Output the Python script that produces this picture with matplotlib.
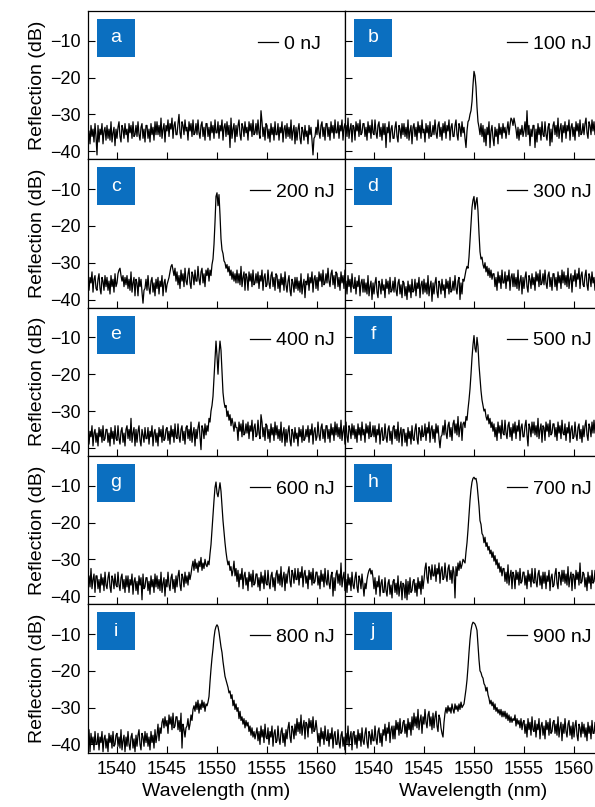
import numpy as np
import matplotlib
matplotlib.use("Agg")
import matplotlib.pyplot as plt
from matplotlib.patches import Rectangle

plt.rcParams['font.family'] = ['Liberation Sans', 'DejaVu Sans']

# wavelength sampling: 0.1 nm from 1537.0 to 1562.9 nm (one row of values per nm)
wl = np.round(1537.0 + 0.1 * np.arange(260), 1)

panel_letters = ['a', 'b', 'c', 'd', 'e', 'f', 'g', 'h', 'i', 'j']
energies = ['0 nJ', '100 nJ', '200 nJ', '300 nJ', '400 nJ',
            '500 nJ', '600 nJ', '700 nJ', '800 nJ', '900 nJ']

refl_a = [
    -33.5, -37, -34.5, -38, -33, -36, -34, -37.5, -32.5, -36,
    -41, -33, -37.5, -34, -35.5, -32.5, -38, -34.5, -33.5, -37,
    -33, -36.5, -34, -37, -32, -37.5, -35, -33.5, -38.5, -34,
    -36.5, -33.5, -32, -36, -37.5, -33, -34, -36.5, -32.5, -35.5,
    -34, -37.5, -32.5, -35, -33, -36.5, -32, -36, -35.5, -33,
    -36, -32, -35.5, -37, -33.5, -32.5, -36.5, -34, -37.5, -33,
    -33, -36.5, -34, -37.5, -32.5, -35.5, -33.5, -37, -32, -35.5,
    -32, -35.5, -33, -36, -31, -36.5, -34, -32.5, -37.5, -33,
    -34.5, -31.5, -36, -32.5, -34, -31, -36.5, -33, -32, -35.5,
    -35.5, -32.5, -30, -35, -36.5, -32, -33, -35.5, -31.5, -34.5,
    -33.5, -37, -32, -34.5, -32.5, -36, -31.5, -35.5, -35, -32.5,
    -35.5, -31.5, -35, -36.5, -33, -32, -36, -33.5, -37, -32.5,
    -32.5, -36, -33.5, -37, -32, -35, -33, -36.5, -31.5, -35,
    -35, -32, -36.5, -33, -34.5, -31.5, -37, -33.5, -32.5, -36,
    -32, -35.5, -33, -39, -31, -36.5, -34, -32.5, -37.5, -33,
    -36, -33, -31.5, -35.5, -37, -32.5, -33.5, -36, -32, -35,
    -33.5, -37, -32, -34.5, -32.5, -36, -31.5, -35.5, -35, -32.5,
    -35.5, -31.5, -35, -36.5, -29, -32, -36, -33.5, -37, -32.5,
    -33, -36.5, -34, -37.5, -32.5, -35.5, -33.5, -37, -32, -35.5,
    -35.5, -32.5, -37, -33.5, -35, -32, -37.5, -34, -33, -36.5,
    -32.5, -36, -33.5, -36.5, -31.5, -37, -34.5, -33, -38, -33.5,
    -37, -34, -32.5, -36.5, -38, -33.5, -34.5, -37, -33, -36,
    -34.5, -38, -33, -35.5, -33.5, -37, -41, -36.5, -36, -33.5,
    -35.5, -31.5, -35, -36.5, -33, -32, -36, -33.5, -37, -32.5,
    -32.5, -36, -33.5, -37, -32, -35, -33, -36.5, -31.5, -35,
    -35, -32, -36.5, -33, -34.5, -31.5, -37, -33.5, -32.5, -36,
]
refl_b = [
    -32, -35.5, -33, -36, -31, -36.5, -34, -32.5, -37.5, -33,
    -33.5, -37, -32, -34.5, -32.5, -36, -31.5, -35.5, -35, -32.5,
    -32.5, -36, -33.5, -37, -32, -35, -33, -36.5, -31.5, -35,
    -35.5, -31.5, -35, -36.5, -33, -32, -36, -33.5, -37, -32.5,
    -35.5, -32.5, -39, -33.5, -35, -32, -37.5, -34, -33, -36.5,
    -36.5, -33.5, -32, -36, -37.5, -33, -34, -36.5, -32.5, -35.5,
    -32.5, -36, -33.5, -36.5, -31.5, -37, -34.5, -33, -38, -33.5,
    -32.5, -36, -33.5, -37, -32, -35, -33, -36.5, -31.5, -35,
    -34, -37.5, -32.5, -35, -33, -36.5, -32, -36, -35.5, -33,
    -35.5, -31.5, -35, -36.5, -33, -32, -36, -33.5, -37, -32.5,
    -35, -32, -36.5, -33, -34.5, -31.5, -37, -33.5, -32.5, -36,
    -36, -33, -31.5, -35.5, -37, -32.5, -33.5, -36, -32, -35,
    -33.5, -36.5, -39, -34.5, -32, -31.5, -30, -29, -26.5, -22,
    -18.3, -19.5, -22.5, -28, -32, -33.5, -35.5, -32.5, -36, -33,
    -37.5, -34, -38.5, -33.5, -35.5, -32, -39, -34.5, -33, -36.5,
    -38.5, -33.5, -36, -34, -38, -32.5, -35.5, -33.5, -36.5, -32.5,
    -35, -33.5, -36.5, -34, -32, -35.5, -33, -31, -31.5, -33,
    -31, -32.5, -34, -36.5, -33.5, -37, -34, -35.5, -33, -36,
    -34.5, -32, -36, -29, -35.5, -33, -38.5, -34, -36, -33,
    -33, -39, -34, -37.5, -32.5, -35.5, -33.5, -37, -32, -35.5,
    -36, -32, -35.5, -37, -33.5, -32.5, -38.5, -34, -37.5, -33,
    -32, -35.5, -33, -36, -31, -36.5, -34, -32.5, -37.5, -33,
    -35, -32, -36.5, -33, -34.5, -31.5, -37, -33.5, -32.5, -36,
    -33.5, -37, -32, -34.5, -32.5, -36, -31.5, -35.5, -35, -32.5,
    -35.5, -32.5, -31, -35, -36.5, -32, -33, -35.5, -31.5, -34.5,
    -32, -35.5, -33, -36.5, -31.5, -34.5, -32.5, -36, -31, -34.5,
]
refl_c = [
    -36, -33, -37.5, -34, -35.5, -32.5, -38, -34.5, -33.5, -37,
    -37.5, -34.5, -33, -37, -38.5, -34, -35, -37.5, -33.5, -36.5,
    -34, -37.5, -35, -38.5, -33.5, -36.5, -34.5, -38, -33, -36.5,
    -35.5, -33, -32, -31.5, -33.5, -35, -33.5, -36.5, -34, -36,
    -33.5, -37, -34.5, -37.5, -32.5, -38, -35.5, -34, -39, -34.5,
    -35.5, -39, -34, -36.5, -34.5, -38, -41, -37.5, -37, -34.5,
    -37.5, -33.5, -37, -38.5, -35, -34, -38, -35.5, -39, -34.5,
    -37, -34, -38.5, -35, -36.5, -33.5, -39, -35.5, -34.5, -38,
    -36, -35, -34, -32.5, -31, -30.5, -32, -33.5, -31.5, -35,
    -32.5, -36, -33.5, -37, -32, -35, -33, -36.5, -31.5, -35,
    -36, -33, -31.5, -35.5, -37, -32.5, -33.5, -36, -32, -35,
    -35, -31, -34.5, -36, -32.5, -31.5, -35.5, -33, -36.5, -32,
    -33.5, -31.5, -35, -32, -33.5, -30.5, -29, -25, -19, -12,
    -11, -14.5, -11.5, -17, -23.5, -26.5, -27.5, -29.5, -30, -31.5,
    -30.5, -32.5, -31, -33.5, -32, -34.5, -32.5, -35, -33, -35.5,
    -32, -35.5, -33, -36, -31, -36.5, -34, -32.5, -37.5, -33,
    -34, -37.5, -32.5, -35, -33, -36.5, -32, -36, -35.5, -33,
    -35.5, -32.5, -37, -33.5, -35, -32, -37.5, -34, -33, -36.5,
    -36, -32, -35.5, -37, -33.5, -32.5, -36.5, -34, -37.5, -33,
    -33.5, -37, -34.5, -38, -33, -36, -34, -37.5, -32.5, -36,
    -38, -35, -33.5, -37.5, -39, -34.5, -35.5, -38, -34, -37,
    -34, -37.5, -35, -38, -33, -38.5, -36, -34.5, -39.5, -35,
    -36, -33, -37.5, -34, -35.5, -32.5, -38, -34.5, -33.5, -37,
    -34, -37.5, -32.5, -35, -33, -36.5, -32, -36, -35.5, -33,
    -35.5, -31.5, -35, -36.5, -33, -32, -36, -33.5, -37, -32.5,
    -33, -36.5, -34, -37.5, -32.5, -35.5, -33.5, -37, -32, -35.5,
]
refl_d = [
    -34, -37.5, -35, -38.5, -33.5, -36.5, -34.5, -38, -33, -36.5,
    -37, -34, -38.5, -35, -36.5, -33.5, -39, -35.5, -34.5, -38,
    -34.5, -38, -35.5, -38.5, -33.5, -39, -36.5, -35, -40, -35.5,
    -38.5, -35.5, -34, -38, -39.5, -35, -36, -38.5, -34.5, -37.5,
    -36, -39.5, -34.5, -37, -35, -38.5, -34, -38, -37.5, -35,
    -38, -34, -37.5, -39, -35.5, -34.5, -38.5, -36, -39.5, -35,
    -35.5, -39, -36.5, -40, -35, -38, -36, -39.5, -34.5, -38,
    -37.5, -34.5, -39, -35.5, -37, -34, -39.5, -36, -35, -38.5,
    -34.5, -38, -35.5, -38.5, -33.5, -39, -36.5, -35, -40.5, -35.5,
    -38.5, -35.5, -34, -38, -39.5, -35, -36, -38.5, -34.5, -37.5,
    -36, -39.5, -34.5, -37, -35, -38.5, -34, -38, -37.5, -35,
    -37.5, -33.5, -37, -38.5, -35, -34, -40, -35.5, -38.5, -34.5,
    -35, -33.5, -32, -31, -31.5, -28.5, -24, -19, -15, -13,
    -12, -15.5, -13.5, -12.3, -16, -22, -27, -29, -28.5, -30.5,
    -31.5, -30, -32.5, -31, -33.5, -31.5, -34, -32, -34.5, -33,
    -33, -36.5, -34, -37.5, -32.5, -35.5, -33.5, -37, -32, -35.5,
    -35.5, -32.5, -37, -33.5, -35, -32, -37.5, -34, -33, -36.5,
    -33, -36.5, -34, -37, -32, -37.5, -35, -33.5, -38.5, -34,
    -37, -34, -32.5, -36.5, -38, -33.5, -34.5, -37, -33, -36,
    -34, -37.5, -32.5, -35, -33, -36.5, -32, -36, -35.5, -33,
    -36, -32, -35.5, -37, -33.5, -32.5, -36.5, -34, -37.5, -33,
    -33, -36.5, -34, -37.5, -32.5, -35.5, -33.5, -37, -32, -35.5,
    -32.5, -36, -33.5, -36.5, -31.5, -37, -34.5, -33, -38, -33.5,
    -35, -32, -36.5, -33, -34.5, -31.5, -37, -33.5, -32.5, -36,
    -36.5, -33.5, -32, -36, -37.5, -33, -34, -36.5, -32.5, -35.5,
    -34, -37.5, -32.5, -35, -33, -36.5, -32, -36, -35.5, -33,
]
refl_e = [
    -37.5, -34.5, -39, -35.5, -37, -34, -39.5, -36, -35, -38.5,
    -36, -39.5, -34.5, -37, -35, -38.5, -34, -38, -37.5, -35,
    -35, -38.5, -36, -39.5, -34.5, -37.5, -35.5, -39, -34, -37.5,
    -38, -34, -37.5, -39, -35.5, -34.5, -38.5, -36, -39.5, -35,
    -34, -37.5, -35, -38, -32, -38.5, -36, -34.5, -39.5, -35,
    -38.5, -35.5, -34, -38, -39.5, -35, -36.5, -38.5, -34.5, -37.5,
    -37.5, -34.5, -39, -35.5, -37, -34, -39.5, -36, -35, -38.5,
    -36, -39.5, -34.5, -37, -35, -38.5, -34, -38, -37.5, -35,
    -34.5, -38, -35.5, -39, -34, -37, -35, -38.5, -33.5, -37,
    -37.5, -33.5, -37, -38.5, -35, -34, -38, -35.5, -39, -34.5,
    -34, -37.5, -35, -38, -33, -38.5, -36, -34.5, -39.5, -35,
    -37.5, -34.5, -33, -37, -40.5, -34, -35, -37.5, -33.5, -36.5,
    -34, -35.5, -32, -33, -30, -28.5, -26, -21, -15.5, -11,
    -15, -20, -14.5, -11, -13.5, -19.5, -25, -27.5, -29, -28.5,
    -31.5, -30, -32.5, -31, -34, -32, -33.5, -35.5, -33, -34.5,
    -34.5, -38, -33, -35.5, -33.5, -37, -32.5, -36.5, -36, -33.5,
    -36, -33, -37.5, -34, -35.5, -32.5, -38, -34.5, -33.5, -37,
    -36.5, -32.5, -36, -37.5, -31, -33, -37, -34.5, -38, -33.5,
    -34, -37.5, -35, -38.5, -33.5, -36.5, -34.5, -38, -33, -36.5,
    -34, -37.5, -35, -38, -33, -38.5, -36, -34.5, -39.5, -35,
    -38.5, -35.5, -34, -38, -39.5, -35, -36, -38.5, -34.5, -37.5,
    -36, -39.5, -34.5, -37, -35, -38.5, -34, -38, -37.5, -35,
    -37, -34, -38.5, -35, -36.5, -33.5, -39, -35.5, -34.5, -38,
    -37, -33, -36.5, -38, -34.5, -33.5, -37.5, -35, -38.5, -34,
    -34, -37.5, -35, -38.5, -33.5, -36.5, -34.5, -38, -33, -36.5,
    -33.5, -37, -34.5, -37.5, -32.5, -38, -35.5, -34, -39, -34.5,
]
refl_f = [
    -37.5, -34.5, -33, -37, -38.5, -34, -35, -37.5, -33.5, -36.5,
    -34, -37.5, -35, -38.5, -33.5, -36.5, -34.5, -38, -33, -36.5,
    -35, -38.5, -33.5, -36, -34, -37.5, -33, -37, -36.5, -34,
    -37, -34, -38.5, -35, -36.5, -33.5, -39, -35.5, -34.5, -38,
    -37.5, -33.5, -37, -38.5, -35, -34, -38, -35.5, -39, -34.5,
    -34, -37.5, -35, -38, -33, -38.5, -36, -34.5, -39.5, -35,
    -35, -38.5, -36, -39.5, -34.5, -37.5, -35.5, -39, -34, -37.5,
    -38, -35, -33.5, -37.5, -39, -34.5, -35.5, -38, -34, -37,
    -36.5, -33.5, -38, -34.5, -36, -33, -38.5, -35, -34, -37.5,
    -35, -38.5, -33.5, -36, -34, -37.5, -40, -37, -36.5, -34,
    -36.5, -32.5, -36, -37.5, -34, -33, -37, -34.5, -38, -33.5,
    -32.5, -36, -33.5, -36.5, -31.5, -37, -34.5, -33, -38, -33.5,
    -33, -34.5, -31.5, -32.5, -29.5, -27, -24, -20, -15.5, -12,
    -9.5, -13, -14, -10, -12.5, -17.5, -21, -24.5, -27, -28.5,
    -30, -29.5, -31.5, -32.5, -31, -33.5, -32, -34.5, -33, -35.5,
    -33.5, -37, -34.5, -38, -33, -36, -34, -37.5, -32.5, -36,
    -36.5, -32.5, -36, -37.5, -34, -33, -37, -34.5, -38, -33.5,
    -36, -33, -37.5, -34, -35.5, -32.5, -38, -34.5, -33.5, -37,
    -37, -34, -32.5, -36.5, -39.5, -33.5, -34.5, -37, -33, -36,
    -33, -36.5, -34, -37, -32, -37.5, -35, -33.5, -38.5, -34,
    -34.5, -38, -33, -35.5, -33.5, -37, -32.5, -36.5, -36, -33.5,
    -33.5, -37, -34.5, -38, -33, -36, -34, -37.5, -32.5, -36,
    -36.5, -33.5, -38, -34.5, -36, -33, -38.5, -35, -34, -37.5,
    -37, -33, -36.5, -38, -34.5, -33.5, -37.5, -35, -38.5, -34,
    -37, -34, -32.5, -36.5, -38, -33.5, -34.5, -37, -33, -36,
    -32.5, -36, -33.5, -36.5, -31.5, -37, -34.5, -33, -38, -33.5,
]
refl_g = [
    -33.5, -37, -34.5, -37.5, -32.5, -38, -35.5, -34, -39, -34.5,
    -34.5, -38, -35.5, -39, -34, -37, -35, -38.5, -33.5, -37,
    -38, -35, -33.5, -37.5, -39, -34.5, -35.5, -38, -34, -37,
    -37.5, -33.5, -37, -38.5, -35, -34, -38, -35.5, -39, -34.5,
    -37.5, -34.5, -39, -35.5, -37, -34, -39.5, -36, -35, -38.5,
    -36, -39.5, -34.5, -37, -35, -41, -34, -38, -37.5, -35,
    -35, -38.5, -36, -39.5, -34.5, -37.5, -35.5, -39, -34, -37.5,
    -34.5, -38, -35.5, -38.5, -33.5, -39, -36.5, -35, -40, -35.5,
    -37.5, -33.5, -37, -38.5, -35, -34, -38, -35.5, -39, -34.5,
    -37.5, -34.5, -33, -37, -38.5, -34, -35, -37.5, -33.5, -36.5,
    -34.5, -37, -33.5, -35.5, -34, -32, -30.5, -33, -30, -32.5,
    -31, -33.5, -30.5, -32, -29.5, -33, -31, -32.5, -30, -31.5,
    -32, -30.5, -31.5, -28.5, -26, -22, -18, -14, -10.5, -9,
    -12, -13, -11, -9.2, -11.5, -15.5, -19.5, -22.5, -25.5, -28,
    -30, -31.5, -30.5, -33, -32, -34.5, -33, -30.5, -34.5, -32.5,
    -36, -33, -37.5, -34, -35.5, -32.5, -38, -34.5, -33.5, -37,
    -35, -38.5, -33.5, -36, -34, -37.5, -33, -37, -36.5, -34,
    -34, -37.5, -35, -38.5, -33.5, -36.5, -34.5, -38, -33, -36.5,
    -37, -33, -36.5, -38, -34.5, -33.5, -37.5, -35, -38.5, -34,
    -33, -36.5, -34, -37, -32, -37.5, -35, -33.5, -38.5, -34,
    -36.5, -33.5, -32, -36, -37.5, -33, -34, -36.5, -32.5, -35.5,
    -35.5, -32.5, -37, -33.5, -35, -32, -37.5, -34, -33, -36.5,
    -34.5, -38, -33, -35.5, -33.5, -37, -32.5, -36.5, -36, -33.5,
    -33.5, -37, -34.5, -38, -33, -36, -34, -37.5, -32.5, -36,
    -37, -33, -36.5, -38, -34.5, -33.5, -40, -35, -38.5, -34,
    -33, -36.5, -34, -37, -31, -37.5, -35, -33.5, -38.5, -34,
]
refl_h = [
    -34.5, -38, -35.5, -39, -34, -37, -35, -38.5, -33.5, -37,
    -38, -35, -33.5, -37.5, -39, -34.5, -35.5, -38, -34, -37,
    -40, -36.5, -38, -35.5, -34, -33, -32.5, -34, -33, -35,
    -38, -35, -39.5, -36, -37.5, -34.5, -40, -36.5, -35.5, -39,
    -39, -35, -38.5, -40, -36.5, -35.5, -39.5, -37, -40.5, -36,
    -35.5, -39, -36.5, -39.5, -34.5, -40, -37.5, -36, -41, -36.5,
    -37, -40.5, -35.5, -41, -36, -39.5, -35, -39, -38.5, -36,
    -35.5, -39, -36.5, -40, -35, -38, -36, -39.5, -34.5, -38,
    -35.5, -32.5, -31, -35, -36.5, -32, -33, -35.5, -31.5, -34.5,
    -34.5, -31.5, -36, -32.5, -34, -31, -36.5, -33, -32, -35.5,
    -35, -31, -34.5, -36, -32.5, -31.5, -35.5, -33, -36.5, -32,
    -33.5, -40.5, -32, -34.5, -31, -33, -30.5, -32.5, -31.5, -30,
    -30.5, -31, -28, -25.5, -22, -18, -14, -11, -9, -8,
    -7.7, -8.2, -8, -9.5, -12.5, -15.5, -19.5, -20.5, -23, -23.5,
    -25.5, -24, -26.5, -25.5, -27.5, -26.5, -28.5, -27.5, -29.5, -28,
    -30.5, -29, -31.5, -30, -32.5, -31, -33.5, -32, -34.5, -32.5,
    -32.5, -36, -33.5, -36.5, -31.5, -37, -34.5, -33, -38, -33.5,
    -34.5, -38, -33, -35.5, -33.5, -37, -32.5, -36.5, -36, -33.5,
    -33.5, -37, -34.5, -38, -33, -36, -34, -37.5, -32.5, -36,
    -36.5, -32.5, -36, -37.5, -34, -33, -37, -34.5, -38, -33.5,
    -36.5, -33.5, -38, -34.5, -36, -33, -38.5, -35, -34, -37.5,
    -37, -34, -32.5, -36.5, -38, -33.5, -34.5, -37, -33, -36,
    -33, -36.5, -34, -37, -32, -37.5, -35, -33.5, -38.5, -34,
    -34.5, -38, -33, -35.5, -33.5, -37, -31, -36.5, -36, -33.5,
    -34, -37.5, -35, -38.5, -33.5, -36.5, -34.5, -38, -33, -36.5,
    -36, -33, -37.5, -34, -35.5, -32.5, -38, -32, -33.5, -37,
]
refl_i = [
    -37.5, -41, -36, -42, -37, -40, -38, -41.5, -36.5, -40,
    -40, -37, -41.5, -38, -39.5, -36.5, -42, -38.5, -37.5, -41,
    -38.5, -42, -37, -39.5, -37.5, -41, -36.5, -40.5, -40, -37.5,
    -37, -40.5, -38, -41, -36, -41.5, -39, -37.5, -42, -38,
    -40.5, -36.5, -40, -41.5, -38, -37, -41, -38.5, -42, -37.5,
    -40.5, -37.5, -36, -40, -41.5, -37, -38, -40.5, -36.5, -39.5,
    -37, -40.5, -38, -41.5, -36.5, -39.5, -37.5, -41, -36, -39.5,
    -37.5, -34.5, -39, -35.5, -37, -34, -33, -35.5, -32.5, -35,
    -33.5, -37, -32, -34.5, -32.5, -36, -31.5, -35.5, -35, -32.5,
    -32.5, -36, -33.5, -36.5, -31.5, -41, -34.5, -36, -38, -35.5,
    -35, -33, -36, -34.5, -32, -33.5, -30.5, -29.5, -31, -28.5,
    -30.5, -28, -31.5, -29, -30.5, -28, -30, -28.5, -31, -29,
    -29.5, -28.5, -27, -23, -19.5, -16.5, -14, -11, -9, -8,
    -7.5, -8, -9.5, -11.5, -13.5, -15, -17.5, -19.5, -21.5, -22.5,
    -23.5, -24.5, -26, -25.5, -27.5, -26.5, -29.5, -28, -30.5, -29,
    -31, -30, -33, -31, -33.5, -32.5, -34.5, -33, -35.5, -33.5,
    -35, -34, -36.5, -35, -37.5, -35.5, -38, -36.5, -38.5, -37,
    -35.5, -39, -36.5, -40, -35, -38, -36, -39.5, -34.5, -38,
    -38.5, -35.5, -40, -36.5, -38, -35, -40.5, -37, -36, -39.5,
    -39, -35, -38.5, -40, -36.5, -35.5, -39.5, -37, -40.5, -36,
    -38.5, -35.5, -34, -38, -39.5, -35, -36, -38.5, -34.5, -37.5,
    -33, -36.5, -34, -37, -32, -37.5, -35, -33.5, -38.5, -34,
    -34.5, -38, -33, -35.5, -33.5, -37, -32.5, -36.5, -36, -33.5,
    -36, -39.5, -37, -40.5, -35.5, -38.5, -36.5, -40, -35, -38.5,
    -39, -36, -40.5, -37, -38.5, -35.5, -41, -37.5, -36.5, -40,
    -40, -36, -39.5, -41, -37.5, -36.5, -40.5, -38, -41.5, -37,
]
refl_j = [
    -36, -39.5, -37, -40, -35, -40.5, -38, -36.5, -41.5, -37,
    -36.5, -40, -37.5, -41, -36, -39, -37, -40.5, -35.5, -39,
    -40, -37, -35.5, -39.5, -41, -36.5, -37.5, -40, -36, -39,
    -39, -35, -38.5, -40, -36.5, -35.5, -39.5, -37, -40.5, -36,
    -37.5, -34.5, -39, -35.5, -37, -34, -39.5, -36, -35, -38.5,
    -35, -38.5, -33.5, -36, -34, -37.5, -33, -37, -36.5, -34,
    -33.5, -37, -34.5, -38, -33, -36, -34, -37.5, -32.5, -36,
    -31.5, -35, -32.5, -35.5, -30.5, -36, -33.5, -32, -37, -32.5,
    -34.5, -30.5, -34, -35.5, -32, -31, -35, -32.5, -36, -31.5,
    -35.5, -32.5, -31, -35, -36.5, -32, -33, -35.5, -37, -38,
    -34, -31.5, -30, -31.5, -29.5, -31, -30, -31.5, -29, -30.5,
    -31.5, -29, -30.5, -29.5, -31, -29, -30.5, -28.5, -30, -29.5,
    -29, -27, -25, -22.5, -19, -15, -11.5, -9, -7.5, -6.8,
    -7, -7.3, -8, -9, -13, -17, -20, -20.5, -21.5, -22,
    -23.5, -24, -25.5, -24.5, -26.5, -27.5, -29, -28, -29.5, -28.5,
    -30.5, -29, -31, -30, -31.5, -30.5, -32, -30.5, -32.5, -31,
    -32.5, -31, -33, -31.5, -33.5, -32, -34, -32.5, -34, -33,
    -33.5, -32, -35, -33, -34.5, -33.5, -35.5, -33, -36, -34,
    -33.5, -37, -34.5, -38, -33, -36, -34, -37.5, -32.5, -36,
    -36.5, -33.5, -38, -34.5, -36, -33, -38.5, -35, -34, -37.5,
    -35, -38.5, -33.5, -36, -34, -37.5, -33, -37, -36.5, -34,
    -33.5, -37, -34.5, -37.5, -32.5, -38, -35.5, -34, -39, -34.5,
    -37, -33, -36.5, -38, -34.5, -33.5, -37.5, -35, -38.5, -34,
    -38, -35, -33.5, -37.5, -39, -34.5, -35.5, -38, -34, -37,
    -34.5, -38, -35.5, -39, -34, -37, -35, -38.5, -33.5, -37,
    -37, -34, -38.5, -35, -36.5, -33.5, -39, -35.5, -34.5, -38,
]

spectra = [refl_a, refl_b, refl_c, refl_d, refl_e,
           refl_f, refl_g, refl_h, refl_i, refl_j]

x_ticks = [1540, 1545, 1550, 1555, 1560]
y_ticks = [-10, -20, -30, -40]

W, H = 595, 807
fig = plt.figure(figsize=(W / 100, H / 100), dpi=100)

left_px = [88, 345]
ax_w = 257
top0 = 11
ax_h = 148.3
blue = '#0b6fc0'

for idx, (y, letter, lab) in enumerate(zip(spectra, panel_letters, energies)):
    row, col = divmod(idx, 2)
    x0 = left_px[col] / W
    y0 = 1 - (top0 + (row + 1) * ax_h) / H
    ax = fig.add_axes([x0, y0, ax_w / W, ax_h / H])
    n = min(len(wl), len(y))
    ax.plot(wl[:n], np.asarray(y[:n]), color='black', lw=0.9, label=lab)
    ax.set_xlim(1537.1, 1562.8)
    ax.set_ylim(-42.2, -1.9)
    ax.set_xticks(x_ticks)
    ax.set_yticks(y_ticks)
    ax.tick_params(direction='in', length=5, width=0.8, labelsize=13,
                   pad=6, colors='black')
    ax.tick_params(axis='y', pad=5)
    for s in ax.spines.values():
        s.set_linewidth(0.9)
    if col == 1:
        ax.tick_params(axis='y', labelleft=False)
    else:
        ax.set_ylabel('Reflection (dB)', fontsize=14, labelpad=3)
    if row < 4:
        ax.tick_params(axis='x', labelbottom=False)
    else:
        ax.set_xlabel('Wavelength (nm)', fontsize=14, labelpad=4)
    # panel letter box
    bw, bh = 38 / ax_w, 38 / ax_h
    bx, by = 9 / ax_w, 1 - (8 + 38) / ax_h
    ax.add_patch(Rectangle((bx, by), bw, bh, transform=ax.transAxes,
                           facecolor=blue, edgecolor='none', zorder=5))
    ax.text(bx + bw / 2, by + bh / 2, letter, transform=ax.transAxes,
            ha='center', va='center', color='white', fontsize=14, zorder=6)
    lx = 170 / ax_w if lab == '0 nJ' else 162 / ax_w
    ax.legend(loc='center left', bbox_to_anchor=(lx, 1 - 33 / ax_h),
              frameon=False, fontsize=14, handlelength=1.03,
              handletextpad=0.3, borderpad=0, borderaxespad=0)

fig.savefig('out.png', dpi=100)
